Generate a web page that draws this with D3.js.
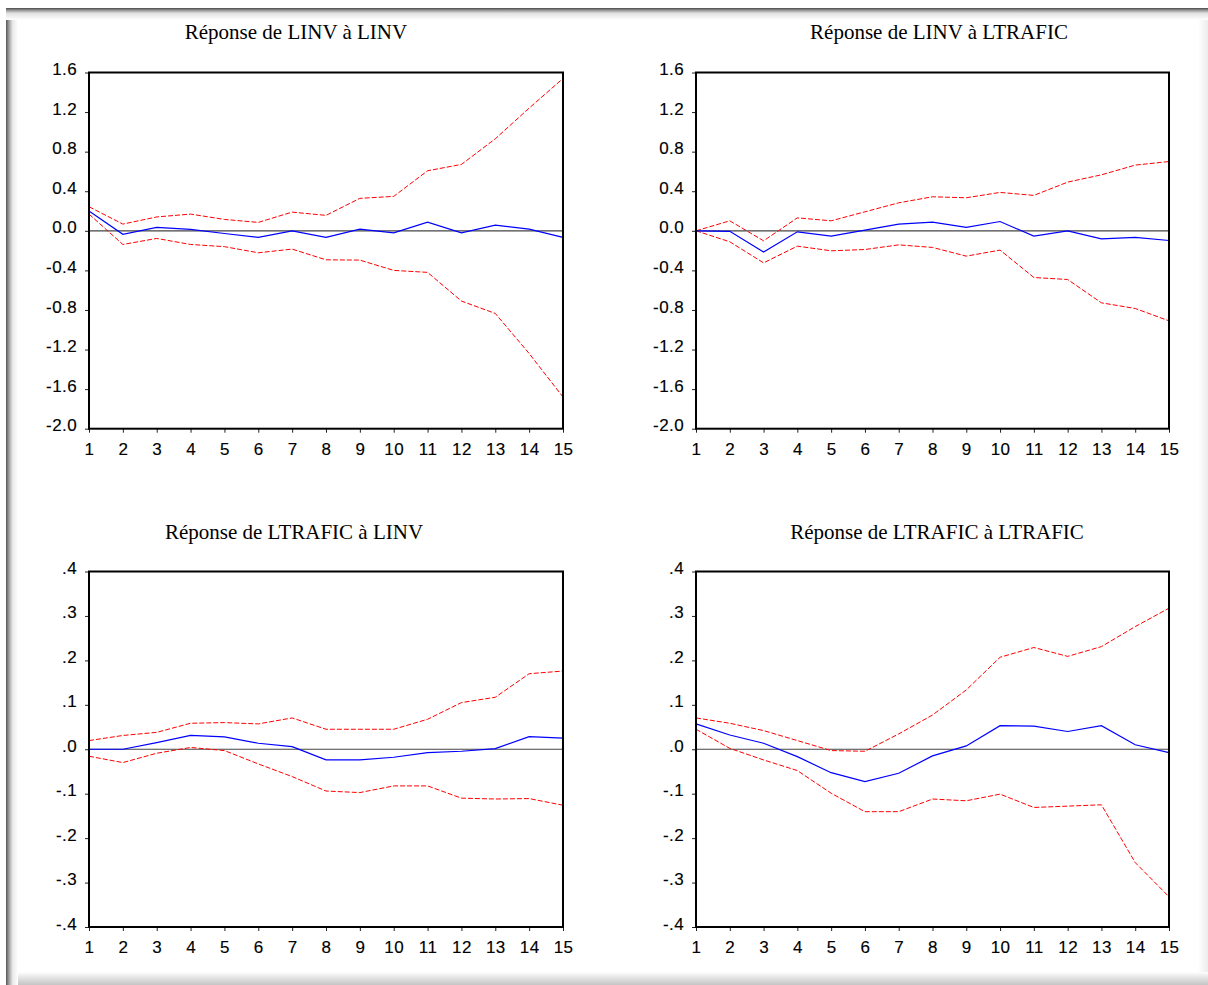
<!DOCTYPE html>
<html>
<head>
<meta charset="utf-8">
<script src="https://cdn.jsdelivr.net/npm/d3@7"></script>
<style>
  body { margin: 0; background: #fff; }
  svg { display: block; }
  .tick text { font-family: "Liberation Sans", Arial, sans-serif; font-size: 17px; fill: #000; stroke: #000; stroke-width: 0.15px; letter-spacing: 0.4px; }
  .tick line { stroke: #222; }
  .title { font-family: "Liberation Serif", "Times New Roman", serif; font-size: 21px; fill: #000; }
</style>
</head>
<body>
<svg id="my-svg" width="1208" height="985"></svg>
<script>
// periods
const horizons = [1, 2, 3, 4, 5, 6, 7, 8, 9, 10, 11, 12, 13, 14, 15];

// LINV -> LINV
const linvLinv      = [0.20, -0.035, 0.034, 0.014, -0.027, -0.067, 0.0, -0.067, 0.017, -0.02, 0.088, -0.02, 0.057, 0.017, -0.067];
const linvLinvUp    = [0.243, 0.068, 0.14, 0.169, 0.115, 0.085, 0.189, 0.156, 0.328, 0.348, 0.607, 0.671, 0.93, 1.24, 1.54];
const linvLinvLo    = [0.169, -0.138, -0.077, -0.138, -0.16, -0.222, -0.185, -0.293, -0.296, -0.40, -0.42, -0.71, -0.835, -1.24, -1.68];

// LINV -> LTRAFIC
const linvTraf      = [0.0, -0.005, -0.215, -0.01, -0.054, 0.007, 0.067, 0.088, 0.034, 0.094, -0.054, 0.0, -0.081, -0.067, -0.098];
const linvTrafUp    = [0.0, 0.101, -0.101, 0.131, 0.101, 0.192, 0.283, 0.344, 0.334, 0.388, 0.358, 0.492, 0.566, 0.664, 0.70];
const linvTrafLo    = [0.0, -0.111, -0.324, -0.155, -0.202, -0.189, -0.142, -0.168, -0.256, -0.195, -0.472, -0.492, -0.728, -0.785, -0.91];

// LTRAFIC -> LINV
const trafLinv      = [0.0, 0.0, 0.015, 0.031, 0.028, 0.0135, 0.006, -0.024, -0.024, -0.018, -0.0075, -0.0045, 0.0015, 0.0285, 0.025];
const trafLinvUp    = [0.0195, 0.031, 0.038, 0.0585, 0.06, 0.057, 0.0705, 0.045, 0.045, 0.045, 0.0675, 0.105, 0.117, 0.17, 0.176];
const trafLinvLo    = [-0.0158, -0.03, -0.009, 0.004, -0.003, -0.033, -0.0615, -0.094, -0.0975, -0.0825, -0.0825, -0.110, -0.112, -0.111, -0.126];

// LTRAFIC -> LTRAFIC
const trafTraf      = [0.057, 0.032, 0.0135, -0.0167, -0.0527, -0.073, -0.054, -0.015, 0.0075, 0.053, 0.052, 0.040, 0.053, 0.01, -0.0075];
const trafTrafUp    = [0.0705, 0.0585, 0.042, 0.0195, -0.003, -0.0045, 0.0345, 0.077, 0.1335, 0.207, 0.229, 0.209, 0.231, 0.276, 0.3175];
const trafTrafLo    = [0.045, 0.002, -0.024, -0.048, -0.099, -0.1405, -0.1405, -0.112, -0.116, -0.101, -0.131, -0.128, -0.125, -0.255, -0.332];

// tick values and labels
const topTicks = [-2.0, -1.6, -1.2, -0.8, -0.4, 0.0, 0.4, 0.8, 1.2, 1.6];
const topTickLabels = ["-2.0", "-1.6", "-1.2", "-0.8", "-0.4", "0.0", "0.4", "0.8", "1.2", "1.6"];
const bottomTicks = [-0.4, -0.3, -0.2, -0.1, 0.0, 0.1, 0.2, 0.3, 0.4];
const bottomTickLabels = ["-.4", "-.3", "-.2", "-.1", ".0", ".1", ".2", ".3", ".4"];

const titles = [
    "Réponse de LINV à LINV",
    "Réponse de LINV à LTRAFIC",
    "Réponse de LTRAFIC à LINV",
    "Réponse de LTRAFIC à LTRAFIC"
];

const svg = d3.select('svg');

// frame with soft inner shadow
const defs = svg.append('defs');
const grad = (id, x2, y2, stops) => {
    const g = defs.append('linearGradient').attr('id', id)
        .attr('x1', 0).attr('y1', 0).attr('x2', x2).attr('y2', y2);
    stops.forEach(s => g.append('stop').attr('offset', s[0]).attr('stop-color', s[1]));
};
grad('gTop', 0, 1, [[0, '#4a4a4a'], [0.2, '#9a9a9a'], [0.45, '#e2e2e2'], [1, '#ffffff']]);
grad('gLeft', 1, 0, [[0, '#555'], [0.25, '#a0a0a0'], [0.55, '#e8e8e8'], [1, '#ffffff']]);
grad('gBottom', 0, 1, [[0, '#ffffff'], [0.4, '#e6e6e6'], [1, '#c4c4c4']]);
grad('gRight', 1, 0, [[0, '#ffffff'], [1, '#ececec']]);

svg.append('rect').attr('width', 1208).attr('height', 985).attr('fill', '#fff');
svg.append('rect').attr('x', 1198).attr('y', 8).attr('width', 10).attr('height', 977).attr('fill', 'url(#gRight)');
svg.append('rect').attr('x', 6).attr('y', 972).attr('width', 1202).attr('height', 13).attr('fill', 'url(#gBottom)');
svg.append('rect').attr('x', 6).attr('y', 8).attr('width', 12).attr('height', 977).attr('fill', 'url(#gLeft)');
svg.append('rect').attr('x', 6).attr('y', 8).attr('width', 1202).attr('height', 12).attr('fill', 'url(#gTop)');

const panels = [
    {title: titles[0], tx: 296, ty: 39, left: 89, right: 563, top: 72.5, bottom: 428.7,
     domain: [-2.0, 1.6], ticks: topTicks, labels: topTickLabels, mid: linvLinv, up: linvLinvUp, lo: linvLinvLo},
    {title: titles[1], tx: 939, ty: 39, left: 696, right: 1169, top: 72.5, bottom: 428.7,
     domain: [-2.0, 1.6], ticks: topTicks, labels: topTickLabels, mid: linvTraf, up: linvTrafUp, lo: linvTrafLo},
    {title: titles[2], tx: 294, ty: 539, left: 89, right: 563, top: 571.5, bottom: 927,
     domain: [-0.4, 0.4], ticks: bottomTicks, labels: bottomTickLabels, mid: trafLinv, up: trafLinvUp, lo: trafLinvLo},
    {title: titles[3], tx: 937, ty: 539, left: 696, right: 1169, top: 571.5, bottom: 927,
     domain: [-0.4, 0.4], ticks: bottomTicks, labels: bottomTickLabels, mid: trafTraf, up: trafTrafUp, lo: trafTrafLo}
];

const renderPanel = (p) => {
    const xScale = d3.scaleLinear().domain([1, 15]).range([p.left, p.right]);
    const yScale = d3.scaleLinear().domain(p.domain).range([p.bottom, p.top]);

    const g = svg.append('g');

    g.append('text')
        .attr('class', 'title')
        .attr('x', p.tx)
        .attr('y', p.ty)
        .attr('text-anchor', 'middle')
        .text(p.title);

    const yAxis = d3.axisLeft(yScale)
        .tickValues(p.ticks)
        .tickFormat((d, i) => p.labels[i])
        .tickSize(4).tickSizeOuter(0).tickPadding(8);
    const yAxisGroup = g.append('g')
        .attr('transform', `translate(${p.left}, 0)`)
        .call(yAxis);
    yAxisGroup.select('.domain').remove();
    yAxisGroup.selectAll('text').attr('dy', '0.12em');

    const xAxis = d3.axisBottom(xScale)
        .tickValues(horizons)
        .tickFormat(d3.format('d'))
        .tickSize(4).tickSizeOuter(0).tickPadding(10);
    const xAxisGroup = g.append('g')
        .attr('transform', `translate(0, ${p.bottom})`)
        .call(xAxis);
    xAxisGroup.select('.domain').remove();

    // zero line
    g.append('line')
        .attr('x1', p.left).attr('x2', p.right)
        .attr('y1', yScale(0)).attr('y2', yScale(0))
        .attr('stroke', '#444')
        .attr('stroke-width', 1.2);

    const line = d3.line()
        .x((d, i) => xScale(horizons[i]))
        .y(d => yScale(d));

    [p.up, p.lo].forEach(band => {
        g.append('path')
            .attr('d', line(band))
            .attr('fill', 'none')
            .attr('stroke', '#ff0000')
            .attr('stroke-width', 1)
            .attr('stroke-dasharray', '5,2');
    });

    g.append('path')
        .attr('d', line(p.mid))
        .attr('fill', 'none')
        .attr('stroke', '#0000ff')
        .attr('stroke-width', 1.2);

    // plot box
    g.append('rect')
        .attr('x', p.left).attr('y', p.top)
        .attr('width', p.right - p.left)
        .attr('height', p.bottom - p.top)
        .attr('fill', 'none')
        .attr('stroke', '#000')
        .attr('stroke-width', 2);
};

panels.forEach(renderPanel);
</script>
</body>
</html>
